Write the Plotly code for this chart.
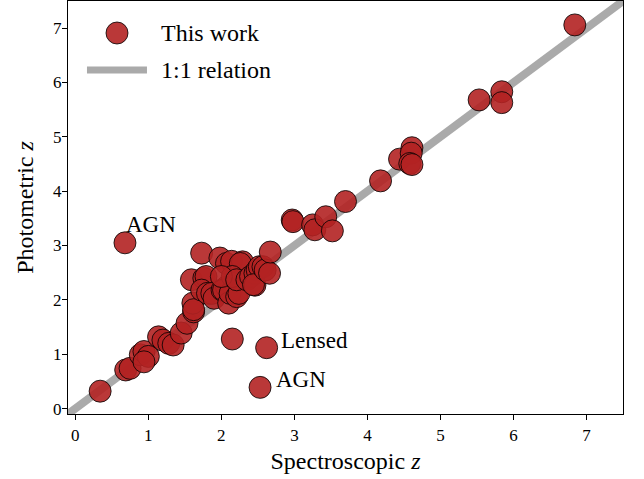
import plotly.graph_objects as go

# ---- data ----
spec_z = [0.34, 0.69, 0.75, 0.68, 0.89, 0.94, 1.00, 0.94,
          1.14, 1.20, 1.28, 1.34, 1.45, 1.53, 1.62, 1.61, 1.59, 1.62,
          1.73, 1.76, 1.79, 1.73, 1.81, 1.87, 1.90, 1.98, 2.07, 2.01, 2.07, 2.03,
          2.10, 2.12, 2.21, 2.24, 2.15, 2.14, 2.29, 2.26, 2.15, 2.00, 2.21,
          2.35, 2.40, 2.46, 2.49, 2.52, 2.46, 2.44, 2.57, 2.60, 2.66, 2.67,
          2.62, 2.53, 2.97, 2.98, 3.25, 3.28, 3.43, 3.52, 3.70, 4.18,
          4.44, 4.61, 4.60, 4.58, 4.61, 5.53, 5.84, 5.84, 6.84]
phot_z = [0.32, 0.71, 0.74, 3.05, 0.99, 1.05, 0.96, 0.86,
          1.32, 1.26, 1.20, 1.17, 1.39, 1.57, 1.78, 1.94, 2.37, 1.82,
          2.86, 2.40, 2.43, 2.18, 2.12, 2.12, 2.03, 2.77, 2.67, 2.18, 2.24, 2.18,
          1.94, 2.12, 2.06, 2.12, 1.28, 2.71, 2.70, 2.67, 2.43, 2.43, 2.37,
          2.37, 2.43, 2.49, 2.55, 2.61, 2.27, 2.28, 2.61, 2.55, 2.49, 2.88,
          1.12, 0.39, 3.47, 3.44, 3.38, 3.29, 3.53, 3.27, 3.81, 4.19,
          4.59, 4.80, 4.70, 4.51, 4.49, 5.68, 5.83, 5.63, 7.06]
relation_z = [-0.5, 8.0]
x_ticks = [0, 1, 2, 3, 4, 5, 6, 7]
y_ticks = [0, 1, 2, 3, 4, 5, 6, 7]
labels = ["AGN", "Lensed", "AGN"]
label_x = [0.67, 2.79, 2.72]
label_y = [3.38, 1.245, 0.53]

FONT = "Liberation Serif"
RED = "rgba(178,34,34,0.9)"
GREY = "#aaaaaa"

fig = go.Figure()
fig.add_trace(go.Scatter(x=relation_z, y=relation_z, mode="lines",
                         line=dict(color=GREY, width=8), showlegend=False,
                         hoverinfo="skip"))
fig.add_trace(go.Scatter(x=spec_z, y=phot_z, mode="markers",
                         marker=dict(size=22, color=RED,
                                     line=dict(color="black", width=0.8)),
                         showlegend=False))

for t, lx, ly in zip(labels, label_x, label_y):
    fig.add_annotation(x=lx, y=ly, text=t, showarrow=False, xanchor="left",
                       yanchor="middle", font=dict(family=FONT, size=23, color="black"))

# manual legend (matplotlib-like large symbols)
fig.add_shape(type="circle", xref="paper", yref="paper",
              xsizemode="pixel", ysizemode="pixel",
              xanchor=0.0883, yanchor=0.9225, x0=-11, x1=11, y0=-11, y1=11,
              fillcolor=RED, line=dict(color="black", width=0.8))
fig.add_shape(type="line", xref="paper", yref="paper",
              x0=0.0342, x1=0.1423, y0=0.833, y1=0.833,
              line=dict(color=GREY, width=7))
fig.add_annotation(xref="paper", yref="paper", x=0.164, y=0.9225, text="This work",
                   showarrow=False, xanchor="left", yanchor="middle",
                   font=dict(family=FONT, size=24, color="black"))
fig.add_annotation(xref="paper", yref="paper", x=0.164, y=0.833, text="1:1 relation",
                   showarrow=False, xanchor="left", yanchor="middle",
                   font=dict(family=FONT, size=24, color="black"))

axis_common = dict(showgrid=False, zeroline=False, showline=True, mirror=True,
                   linecolor="black", linewidth=1.2, ticks="outside", ticklen=5,
                   tickwidth=1, tickcolor="black",
                   tickfont=dict(family=FONT, size=17, color="black"))
fig.update_xaxes(range=[-0.1, 7.5], tickvals=x_ticks,
                 title=dict(text="Spectroscopic <i>z</i>", standoff=8,
                            font=dict(family=FONT, size=24, color="black")),
                 **axis_common)
fig.update_yaxes(range=[-0.1, 7.5], tickvals=y_ticks, ticklabelstandoff=-3,
                 title=dict(text="Photometric <i>z</i>", standoff=12,
                            font=dict(family=FONT, size=24, color="black")),
                 **axis_common)
fig.update_layout(width=644, height=479, plot_bgcolor="white", paper_bgcolor="white",
                  margin=dict(l=68, r=21, t=1, b=65), showlegend=False)
fig.write_html("out.html")
